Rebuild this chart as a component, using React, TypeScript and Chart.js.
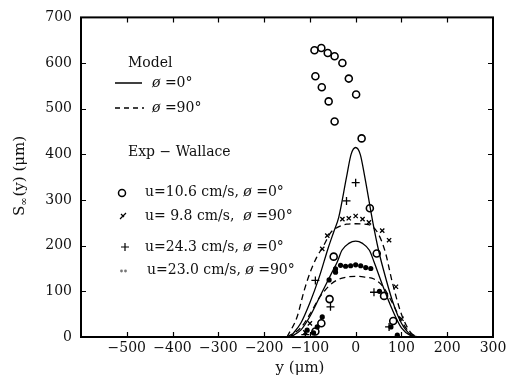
import React, { useEffect, useRef } from 'react';
import { Chart, registerables } from 'chart.js';
Chart.register(...registerables);

const X_MIN = -600;
const X_MAX = 300;
const Y_MIN = 0;
const Y_MAX = 700;

// Model curves
const solidTallX = [-143, -120, -100, -80, -60, -48, -37, -20, -10, 0, 10, 20, 37, 50, 60, 80, 100, 120, 136];
const solidTallY = [0, 30, 75, 130, 195, 230, 262, 350, 400, 415, 400, 350, 254, 190, 150, 80, 30, 5, 0];
const solidLowX = [-143, -120, -100, -80, -60, -50, -40, -30, -15, 0, 15, 30, 40, 60, 80, 100, 120, 136];
const solidLowY = [0, 15, 45, 85, 125, 145, 165, 190, 205, 210, 205, 190, 165, 110, 60, 20, 3, 0];
const dashHighX = [-150, -128, -113, -100, -85, -70, -55, -40, -20, 0, 20, 35, 50, 65, 80, 100, 120, 136];
const dashHighY = [0, 44, 100, 140, 175, 200, 228, 240, 247, 248, 247, 243, 225, 185, 120, 50, 10, 0];
const dashLowX = [-150, -120, -100, -80, -60, -40, -20, 0, 20, 40, 60, 80, 100, 120, 136];
const dashLowY = [0, 20, 50, 85, 110, 125, 131, 133, 131, 127, 110, 75, 35, 8, 0];

// Experiments (Wallace)
const circX = [-90, -75, -61, -46, -29, -88, -15, -74, 1, -59, -46, 13, 31, -48, 46, -57, -75, -88, 62, 82];
const circY = [628, 633, 622, 615, 600, 571, 566, 547, 531, 516, 472, 435, 282, 176, 183, 83, 30, 12, 90, 35];
const crossX = [-29, -15, 0, 15, 29, 58, 73, -62, -73, -100, -110, 88, 100];
const crossY = [258, 260, 265, 258, 251, 233, 212, 222, 193, 30, 10, 110, 40];
const plusX = [0, -20, -55, -88, 40, 73, -110];
const plusY = [338, 298, 66, 124, 98, 22, 5];
const dotX = [-44, -33, -22, -11, 0, 11, 22, 33, -44, -58, -73, -84, -92, -106, 52, 77, 91];
const dotY = [149, 157, 155, 156, 158, 156, 152, 150, 142, 125, 44, 22, 9, 15, 100, 22, 4];

const xTickValues = [-500, -400, -300, -200, -100, 0, 100, 200];
const yTickValues = [100, 200, 300, 400, 500, 600];

const pts = (xs: number[], ys: number[]) => xs.map((x, i) => ({ x, y: ys[i] }));

const FONT = '"DejaVu Serif", serif';

const overlay = {
  id: 'overlay',
  afterDraw(chart: any) {
    const ctx = chart.ctx as CanvasRenderingContext2D;
    const a = chart.chartArea;
    const xs = chart.scales.x;
    const ys = chart.scales.y;
    ctx.save();
    ctx.strokeStyle = '#000';
    ctx.lineWidth = 2;
    ctx.strokeRect(a.left, a.top, a.right - a.left, a.bottom - a.top);
    ctx.lineWidth = 1.2;
    ctx.beginPath();
    for (const v of xTickValues) {
      const px = Math.round(xs.getPixelForValue(v)) + 0.5;
      ctx.moveTo(px, a.bottom);
      ctx.lineTo(px, a.bottom - 5);
      ctx.moveTo(px, a.top);
      ctx.lineTo(px, a.top + 5);
    }
    for (const v of yTickValues) {
      const py = Math.round(ys.getPixelForValue(v)) + 0.5;
      ctx.moveTo(a.left, py);
      ctx.lineTo(a.left + 5, py);
      ctx.moveTo(a.right, py);
      ctx.lineTo(a.right - 5, py);
    }
    ctx.stroke();

    // Legend
    ctx.fillStyle = '#111';
    ctx.textBaseline = 'middle';
    ctx.textAlign = 'left';
    ctx.font = `14px ${FONT}`;
    ctx.fillText('Model', 128, 63);
    ctx.lineWidth = 1.5;
    ctx.beginPath();
    ctx.moveTo(115, 83);
    ctx.lineTo(142, 83);
    ctx.stroke();
    ctx.setLineDash([5, 4]);
    ctx.beginPath();
    ctx.moveTo(115, 108);
    ctx.lineTo(144, 108);
    ctx.stroke();
    ctx.setLineDash([]);
    const phiLine = (x: number, y: number, pre: string, post: string) => {
      ctx.font = `14px ${FONT}`;
      ctx.fillText(pre, x, y);
      let w = ctx.measureText(pre).width;
      ctx.font = `italic 14px ${FONT}`;
      ctx.fillText('ø', x + w, y);
      w += ctx.measureText('ø').width;
      ctx.font = `14px ${FONT}`;
      ctx.fillText(post, x + w, y);
    };
    phiLine(152, 83, '', ' =0°');
    phiLine(152, 108, '', ' =90°');
    ctx.font = `14px ${FONT}`;
    ctx.fillText('Exp − Wallace', 128, 152);
    phiLine(145, 192, 'u=10.6 cm/s, ', ' =0°');
    phiLine(145, 216, 'u= 9.8 cm/s,  ', ' =90°');
    phiLine(145, 247, 'u=24.3 cm/s, ', ' =0°');
    phiLine(147, 270, 'u=23.0 cm/s, ', ' =90°');
    // legend markers
    ctx.lineWidth = 1.5;
    ctx.beginPath();
    ctx.arc(122, 193, 3.5, 0, Math.PI * 2);
    ctx.stroke();
    ctx.lineWidth = 1.2;
    ctx.beginPath();
    ctx.moveTo(120, 219);
    ctx.lineTo(126, 213);
    ctx.moveTo(121, 214);
    ctx.lineTo(124, 217);
    ctx.stroke();
    ctx.beginPath();
    ctx.moveTo(121, 247);
    ctx.lineTo(129, 247);
    ctx.moveTo(125, 243);
    ctx.lineTo(125, 251);
    ctx.stroke();
    ctx.fillStyle = '#777';
    ctx.beginPath();
    ctx.arc(121.5, 271, 1.4, 0, Math.PI * 2);
    ctx.arc(125.5, 271, 1.4, 0, Math.PI * 2);
    ctx.fill();

    // Axis titles
    ctx.fillStyle = '#111';
    ctx.font = `15px ${FONT}`;
    ctx.textAlign = 'center';
    ctx.fillText('y (μm)', 300, 368);

    ctx.save();
    ctx.translate(20, 176);
    ctx.rotate(-Math.PI / 2);
    ctx.textAlign = 'left';
    ctx.font = `15px ${FONT}`;
    const p1 = 'S';
    const p3 = '(y) (μm)';
    const w1 = ctx.measureText(p1).width;
    const w3 = ctx.measureText(p3).width;
    ctx.font = `10px ${FONT}`;
    const w2 = ctx.measureText('∞').width;
    const total = w1 + w2 + 1 + w3;
    let cx = -total / 2;
    ctx.font = `15px ${FONT}`;
    ctx.fillText(p1, cx, 0);
    cx += w1;
    ctx.font = `10px ${FONT}`;
    ctx.fillText('∞', cx, 4);
    cx += w2 + 1;
    ctx.font = `15px ${FONT}`;
    ctx.fillText(p3, cx, 0);
    ctx.restore();

    ctx.restore();
  },
};

export default function App() {
  const ref = useRef<HTMLCanvasElement | null>(null);
  useEffect(() => {
    document.body.style.margin = '0';
    if (!ref.current) return;
    const lineDs = (xs: number[], ys: number[], dash: number[]) => ({
      type: 'line' as const,
      data: pts(xs, ys),
      borderColor: '#000',
      borderWidth: 1.3,
      borderDash: dash,
      pointRadius: 0,
      showLine: true,
      fill: false,
      cubicInterpolationMode: 'monotone' as const,
    });
    const chart = new Chart(ref.current, {
      type: 'scatter',
      data: {
        datasets: [
          lineDs(solidTallX, solidTallY, []),
          lineDs(solidLowX, solidLowY, []),
          lineDs(dashHighX, dashHighY, [6, 4]),
          lineDs(dashLowX, dashLowY, [6, 4]),
          {
            data: pts(circX, circY),
            pointStyle: 'circle',
            pointRadius: 3.5,
            pointBorderWidth: 1.6,
            borderColor: '#000',
            backgroundColor: 'rgba(255,255,255,0)',
          },
          {
            data: pts(crossX, crossY),
            pointStyle: 'crossRot',
            pointRadius: 3,
            pointBorderWidth: 1.3,
            borderColor: '#000',
            backgroundColor: '#000',
          },
          {
            data: pts(plusX, plusY),
            pointStyle: 'cross',
            pointRadius: 4,
            pointBorderWidth: 1.3,
            borderColor: '#000',
            backgroundColor: '#000',
          },
          {
            data: pts(dotX, dotY),
            pointStyle: 'circle',
            pointRadius: 2.6,
            pointBorderWidth: 0,
            borderColor: '#000',
            backgroundColor: '#000',
          },
        ] as any,
      },
      options: {
        responsive: false,
        animation: false,
        devicePixelRatio: 1,
        layout: { padding: { top: 15, right: 17, left: 0, bottom: 0 } },
        plugins: { legend: { display: false }, tooltip: { enabled: false } },
        scales: {
          x: {
            type: 'linear',
            min: X_MIN,
            max: X_MAX,
            grid: { display: false, drawTicks: false },
            border: { display: false },
            ticks: {
              stepSize: 100,
              padding: 3,
              color: '#111',
              font: { family: FONT, size: 14 },
              maxRotation: 0,
              callback: (v: any) => (v === X_MIN ? '' : String(v).replace('-', '−')),
            },
            afterFit: (s: any) => {
              s.height = 55;
            },
          },
          y: {
            type: 'linear',
            min: Y_MIN,
            max: Y_MAX,
            grid: { display: false, drawTicks: false },
            border: { display: false },
            ticks: {
              stepSize: 100,
              padding: 9,
              color: '#111',
              font: { family: FONT, size: 14 },
            },
            afterFit: (s: any) => {
              s.width = 81;
            },
          },
        },
      },
      plugins: [overlay],
    });
    return () => chart.destroy();
  }, []);
  return (
    <div style={{ width: 510, height: 392 }}>
      <canvas ref={ref} width={510} height={392} style={{ display: 'block' }} />
    </div>
  );
}
